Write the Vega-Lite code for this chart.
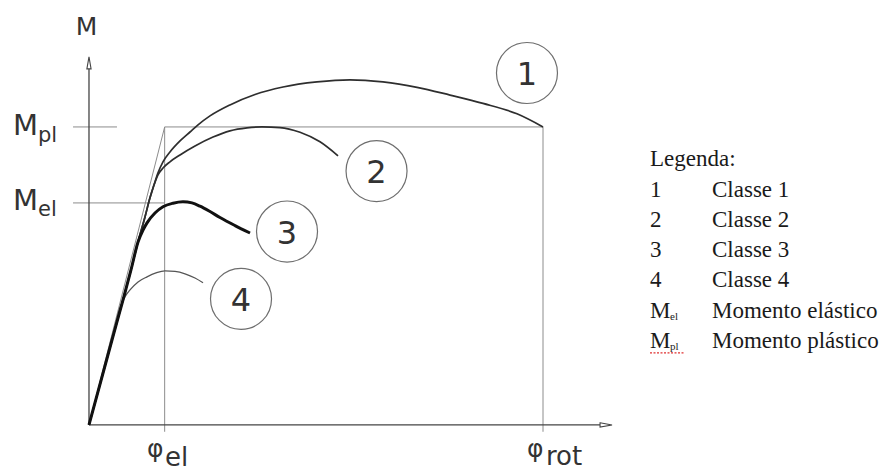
{
  "$schema": "https://vega.github.io/schema/vega-lite/v6.json",
  "width": 888,
  "height": 472,
  "padding": 0,
  "autosize": {"type": "none"},
  "background": "white",
  "config": {"view": {"stroke": null}},
  "datasets": {
    "curves": [
      {"cls": 1, "phi": 0, "m": 0}, {"cls": 1, "phi": 0.304, "m": 0.285}, {"cls": 1, "phi": 0.449, "m": 0.419},
      {"cls": 1, "phi": 0.555, "m": 0.52}, {"cls": 1, "phi": 0.648, "m": 0.614}, {"cls": 1, "phi": 0.74, "m": 0.698},
      {"cls": 1, "phi": 0.806, "m": 0.762}, {"cls": 1, "phi": 0.859, "m": 0.805}, {"cls": 1, "phi": 0.912, "m": 0.846},
      {"cls": 1, "phi": 0.978, "m": 0.883}, {"cls": 1, "phi": 1.07, "m": 0.916}, {"cls": 1, "phi": 1.203, "m": 0.953},
      {"cls": 1, "phi": 1.335, "m": 0.983}, {"cls": 1, "phi": 1.441, "m": 1.007}, {"cls": 1, "phi": 1.599, "m": 1.037},
      {"cls": 1, "phi": 1.863, "m": 1.074}, {"cls": 1, "phi": 2.194, "m": 1.109}, {"cls": 1, "phi": 2.564, "m": 1.134},
      {"cls": 1, "phi": 3.013, "m": 1.151}, {"cls": 1, "phi": 3.449, "m": 1.158}, {"cls": 1, "phi": 3.885, "m": 1.151},
      {"cls": 1, "phi": 4.335, "m": 1.133}, {"cls": 1, "phi": 4.771, "m": 1.107}, {"cls": 1, "phi": 5.207, "m": 1.079},
      {"cls": 1, "phi": 5.656, "m": 1.044}, {"cls": 1, "phi": 6.0, "m": 1.0},

      {"cls": 2, "phi": 0, "m": 0}, {"cls": 2, "phi": 0.304, "m": 0.285}, {"cls": 2, "phi": 0.449, "m": 0.419},
      {"cls": 2, "phi": 0.555, "m": 0.52}, {"cls": 2, "phi": 0.648, "m": 0.614}, {"cls": 2, "phi": 0.74, "m": 0.698},
      {"cls": 2, "phi": 0.806, "m": 0.762}, {"cls": 2, "phi": 0.859, "m": 0.805}, {"cls": 2, "phi": 0.912, "m": 0.839},
      {"cls": 2, "phi": 0.978, "m": 0.862}, {"cls": 2, "phi": 1.07, "m": 0.883}, {"cls": 2, "phi": 1.203, "m": 0.906},
      {"cls": 2, "phi": 1.401, "m": 0.936}, {"cls": 2, "phi": 1.639, "m": 0.966}, {"cls": 2, "phi": 1.863, "m": 0.987},
      {"cls": 2, "phi": 2.088, "m": 0.997}, {"cls": 2, "phi": 2.286, "m": 1.0}, {"cls": 2, "phi": 2.524, "m": 0.998},
      {"cls": 2, "phi": 2.789, "m": 0.982}, {"cls": 2, "phi": 3.053, "m": 0.95}, {"cls": 2, "phi": 3.291, "m": 0.903},

      {"cls": 3, "phi": 0, "m": 0}, {"cls": 3, "phi": 0.304, "m": 0.285}, {"cls": 3, "phi": 0.449, "m": 0.419},
      {"cls": 3, "phi": 0.555, "m": 0.52}, {"cls": 3, "phi": 0.648, "m": 0.614}, {"cls": 3, "phi": 0.714, "m": 0.654},
      {"cls": 3, "phi": 0.767, "m": 0.678}, {"cls": 3, "phi": 0.872, "m": 0.711}, {"cls": 3, "phi": 0.978, "m": 0.732},
      {"cls": 3, "phi": 1.11, "m": 0.744}, {"cls": 3, "phi": 1.242, "m": 0.749}, {"cls": 3, "phi": 1.361, "m": 0.745},
      {"cls": 3, "phi": 1.467, "m": 0.734}, {"cls": 3, "phi": 1.599, "m": 0.716}, {"cls": 3, "phi": 1.731, "m": 0.696},
      {"cls": 3, "phi": 1.93, "m": 0.669}, {"cls": 3, "phi": 2.128, "m": 0.644},

      {"cls": 4, "phi": 0, "m": 0}, {"cls": 4, "phi": 0.304, "m": 0.285}, {"cls": 4, "phi": 0.41, "m": 0.393},
      {"cls": 4, "phi": 0.476, "m": 0.43}, {"cls": 4, "phi": 0.542, "m": 0.453}, {"cls": 4, "phi": 0.648, "m": 0.48},
      {"cls": 4, "phi": 0.767, "m": 0.497}, {"cls": 4, "phi": 0.885, "m": 0.51}, {"cls": 4, "phi": 1.004, "m": 0.517},
      {"cls": 4, "phi": 1.137, "m": 0.515}, {"cls": 4, "phi": 1.269, "m": 0.507}, {"cls": 4, "phi": 1.401, "m": 0.493},
      {"cls": 4, "phi": 1.507, "m": 0.477}
    ],
    "guides": [
      {"kind": "thin", "phi": -0.211, "m": 1, "phi2": 0.37, "m2": 1},
      {"kind": "thin", "phi": -0.211, "m": 0.745, "phi2": 1, "m2": 0.745},
      {"kind": "thin", "phi": 1, "m": 1, "phi2": 6, "m2": 1},
      {"kind": "thin", "phi": 0, "m": 0, "phi2": 1, "m2": 1},
      {"kind": "thin", "phi": 1, "m": -0.023, "phi2": 1, "m2": 1},
      {"kind": "thin", "phi": 6, "m": -0.023, "phi2": 6, "m2": 1},
      {"kind": "axis", "phi": 0, "m": 0, "phi2": 0, "m2": 1.195},
      {"kind": "axis", "phi": 0, "m": 0, "phi2": 6.753, "m2": 0},
      {"kind": "spell", "phi": 7.414, "m": 0.242, "phi2": 7.863, "m2": 0.242}
    ],
    "arrows": [
      {"dir": "up", "phi": 0, "m": 1.215},
      {"dir": "right", "phi": 6.833, "m": 0}
    ],
    "circles": [
      {"label": "1", "phi": 5.788, "m": 1.181},
      {"label": "2", "phi": 3.8, "m": 0.852},
      {"label": "3", "phi": 2.617, "m": 0.649},
      {"label": "4", "phi": 2.009, "m": 0.423}
    ],
    "labels": [
      {"kind": "axisM", "phi": -0.033, "m": 1.309, "text": "M"},
      {"kind": "sym", "phi": -1.004, "m": 0.973, "text": "M"},
      {"kind": "sym", "phi": -1.004, "m": 0.72, "text": "M"},
      {"kind": "sub", "phi": -0.674, "m": 0.95, "text": "pl"},
      {"kind": "sub", "phi": -0.674, "m": 0.701, "text": "el"},
      {"kind": "phi", "phi": 0.767, "m": -0.107, "text": "φ"},
      {"kind": "phi", "phi": 5.789, "m": -0.107, "text": "φ"},
      {"kind": "phisub", "phi": 1.004, "m": -0.138, "text": "el"},
      {"kind": "phisub", "phi": 6.039, "m": -0.134, "text": "rot"}
    ],
    "legend": [
      {"kind": "text", "phi": 7.414, "m": 0.869, "text": "Legenda:"},
      {"kind": "text", "phi": 7.414, "m": 0.765, "text": "1"},
      {"kind": "text", "phi": 7.414, "m": 0.664, "text": "2"},
      {"kind": "text", "phi": 7.414, "m": 0.564, "text": "3"},
      {"kind": "text", "phi": 7.414, "m": 0.463, "text": "4"},
      {"kind": "text", "phi": 7.414, "m": 0.359, "text": "M"},
      {"kind": "text", "phi": 7.414, "m": 0.258, "text": "M"},
      {"kind": "text", "phi": 8.233, "m": 0.765, "text": "Classe 1"},
      {"kind": "text", "phi": 8.233, "m": 0.664, "text": "Classe 2"},
      {"kind": "text", "phi": 8.233, "m": 0.564, "text": "Classe 3"},
      {"kind": "text", "phi": 8.233, "m": 0.463, "text": "Classe 4"},
      {"kind": "text", "phi": 8.233, "m": 0.359, "text": "Momento elástico"},
      {"kind": "text", "phi": 8.233, "m": 0.258, "text": "Momento plástico"},
      {"kind": "sub", "phi": 7.679, "m": 0.352, "text": "el"},
      {"kind": "sub", "phi": 7.679, "m": 0.252, "text": "pl"}
    ]
  },
  "encoding": {
    "x": {"field": "phi", "type": "quantitative", "scale": {"domain": [-1.176, 10.559], "nice": false, "zero": false}, "axis": null},
    "y": {"field": "m", "type": "quantitative", "scale": {"domain": [-0.158, 1.426], "nice": false, "zero": false}, "axis": null}
  },
  "layer": [
    {
      "data": {"name": "guides"},
      "transform": [{"filter": "datum.kind == 'thin'"}],
      "mark": {"type": "rule", "color": "#8c8c8c", "strokeWidth": 1},
      "encoding": {"x2": {"field": "phi2"}, "y2": {"field": "m2"}}
    },
    {
      "data": {"name": "guides"},
      "transform": [{"filter": "datum.kind == 'axis'"}],
      "mark": {"type": "rule", "color": "#444444", "strokeWidth": 1.3},
      "encoding": {"x2": {"field": "phi2"}, "y2": {"field": "m2"}}
    },
    {
      "data": {"name": "guides"},
      "transform": [{"filter": "datum.kind == 'spell'"}],
      "mark": {"type": "rule", "color": "#e03030", "strokeWidth": 1.2, "strokeDash": [2, 1.5]},
      "encoding": {"x2": {"field": "phi2"}, "y2": {"field": "m2"}}
    },
    {
      "data": {"name": "curves"},
      "transform": [{"filter": "datum.cls == 4"}],
      "mark": {"type": "line", "interpolate": "monotone", "color": "#555555", "strokeWidth": 1.3},
      "encoding": {}
    },
    {
      "data": {"name": "curves"},
      "transform": [{"filter": "datum.cls == 2"}],
      "mark": {"type": "line", "interpolate": "monotone", "color": "#2e2e2e", "strokeWidth": 1.7},
      "encoding": {}
    },
    {
      "data": {"name": "curves"},
      "transform": [{"filter": "datum.cls == 1"}],
      "mark": {"type": "line", "interpolate": "monotone", "color": "#2e2e2e", "strokeWidth": 1.7},
      "encoding": {}
    },
    {
      "data": {"name": "curves"},
      "transform": [{"filter": "datum.cls == 3"}],
      "mark": {"type": "line", "interpolate": "monotone", "color": "#111111", "strokeWidth": 3},
      "encoding": {}
    },
    {
      "data": {"name": "arrows"},
      "mark": {"type": "point", "filled": true, "color": "white", "stroke": "#444444", "strokeWidth": 1.1, "size": 144, "opacity": 1},
      "encoding": {
        "shape": {"field": "dir", "type": "nominal", "legend": null,
          "scale": {"domain": ["up", "right"], "range": ["M-0.35,1L0,-1L0.35,1Z", "M-1,-0.35L1,0L-1,0.35Z"]}}
      }
    },
    {
      "data": {"name": "circles"},
      "mark": {"type": "point", "shape": "circle", "size": 3721, "filled": false, "stroke": "#6e6e6e", "strokeWidth": 1.2, "opacity": 1}
    },
    {
      "data": {"name": "circles"},
      "mark": {"type": "text", "font": "DejaVu Sans", "fontSize": 32, "color": "#333333", "align": "center", "baseline": "alphabetic", "dy": 12},
      "encoding": {"text": {"field": "label"}}
    },
    {
      "data": {"name": "labels"},
      "transform": [{"filter": "datum.kind == 'axisM'"}],
      "mark": {"type": "text", "font": "DejaVu Sans", "fontSize": 25, "color": "#333333", "align": "center", "baseline": "alphabetic"},
      "encoding": {"text": {"field": "text"}}
    },
    {
      "data": {"name": "labels"},
      "transform": [{"filter": "datum.kind == 'sym'"}],
      "mark": {"type": "text", "font": "DejaVu Sans", "fontSize": 29, "color": "#333333", "align": "left", "baseline": "alphabetic"},
      "encoding": {"text": {"field": "text"}}
    },
    {
      "data": {"name": "labels"},
      "transform": [{"filter": "datum.kind == 'sub'"}],
      "mark": {"type": "text", "font": "DejaVu Sans", "fontSize": 21, "color": "#333333", "align": "left", "baseline": "alphabetic"},
      "encoding": {"text": {"field": "text"}}
    },
    {
      "data": {"name": "labels"},
      "transform": [{"filter": "datum.kind == 'phi'"}],
      "mark": {"type": "text", "font": "DejaVu Sans", "fontSize": 25, "color": "#333333", "align": "left", "baseline": "alphabetic"},
      "encoding": {"text": {"field": "text"}}
    },
    {
      "data": {"name": "labels"},
      "transform": [{"filter": "datum.kind == 'phisub'"}],
      "mark": {"type": "text", "font": "DejaVu Sans", "fontSize": 26, "color": "#333333", "align": "left", "baseline": "alphabetic"},
      "encoding": {"text": {"field": "text"}}
    },
    {
      "data": {"name": "legend"},
      "transform": [{"filter": "datum.kind == 'text'"}],
      "mark": {"type": "text", "font": "Liberation Serif", "fontSize": 23, "color": "#1a1a1a", "align": "left", "baseline": "alphabetic"},
      "encoding": {"text": {"field": "text"}}
    },
    {
      "data": {"name": "legend"},
      "transform": [{"filter": "datum.kind == 'sub'"}],
      "mark": {"type": "text", "font": "Liberation Serif", "fontSize": 11, "color": "#1a1a1a", "align": "left", "baseline": "alphabetic"},
      "encoding": {"text": {"field": "text"}}
    }
  ]
}
